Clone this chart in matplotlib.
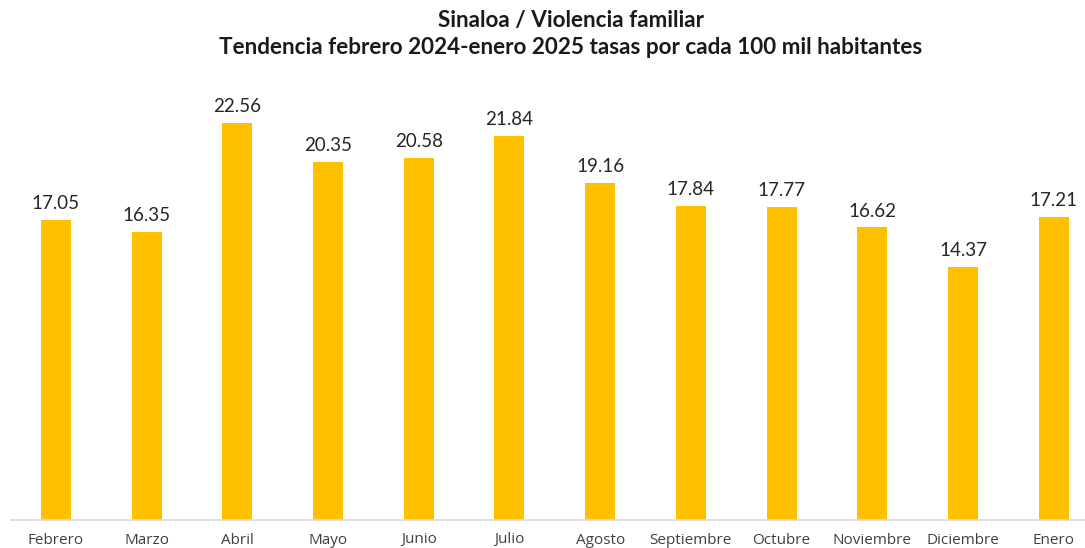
import matplotlib
matplotlib.use("Agg")
import matplotlib.pyplot as plt

months = ["Febrero", "Marzo", "Abril", "Mayo", "Junio", "Julio", "Agosto",
          "Septiembre", "Octubre", "Noviembre", "Diciembre", "Enero"]
values = [17.05, 16.35, 22.56, 20.35, 20.58, 21.84, 19.16, 17.84, 17.77, 16.62, 14.37, 17.21]
title1 = "Sinaloa / Violencia familiar"
title2 = "Tendencia febrero 2024-enero 2025 tasas por cada 100 mil habitantes"

W, H = 1085, 548
fig = plt.figure(figsize=(W / 100, H / 100), dpi=100)
left_px, band_px = 10.6, 90.7
ax = fig.add_axes([left_px / W, 28 / H, band_px * 12 / W, 440 / H])
x = range(len(months))
ax.bar(x, values, width=0.33, color="#FFC000")
ax.set_xlim(-0.5, len(months) - 0.5)
ax.set_ylim(0, 25)
ax.set_yticks([])
for s in ["top", "right", "left"]:
    ax.spines[s].set_visible(False)
ax.spines["bottom"].set_color("#D9D9D9")
ax.spines["bottom"].set_linewidth(1.2)
ax.set_xticks(list(x))
ax.set_xticklabels(months, fontsize=11, color="#404040", family="Open Sans")
ax.tick_params(axis="x", length=0, pad=9)
for xi, v in zip(x, values):
    ax.text(xi, v + 0.45, f"{v:.2f}", ha="center", va="bottom",
            fontsize=13.5, color="#262626", family="Lato")

fig.text(0.526, 0.963, title1, ha="center", va="center", fontsize=16.2,
         fontweight="bold", family="Lato", color="#1a1a1a")
fig.text(0.526, 0.914, title2, ha="center", va="center", fontsize=16.2,
         fontweight="bold", family="Lato", color="#1a1a1a")

fig.savefig("out.png", dpi=100)
